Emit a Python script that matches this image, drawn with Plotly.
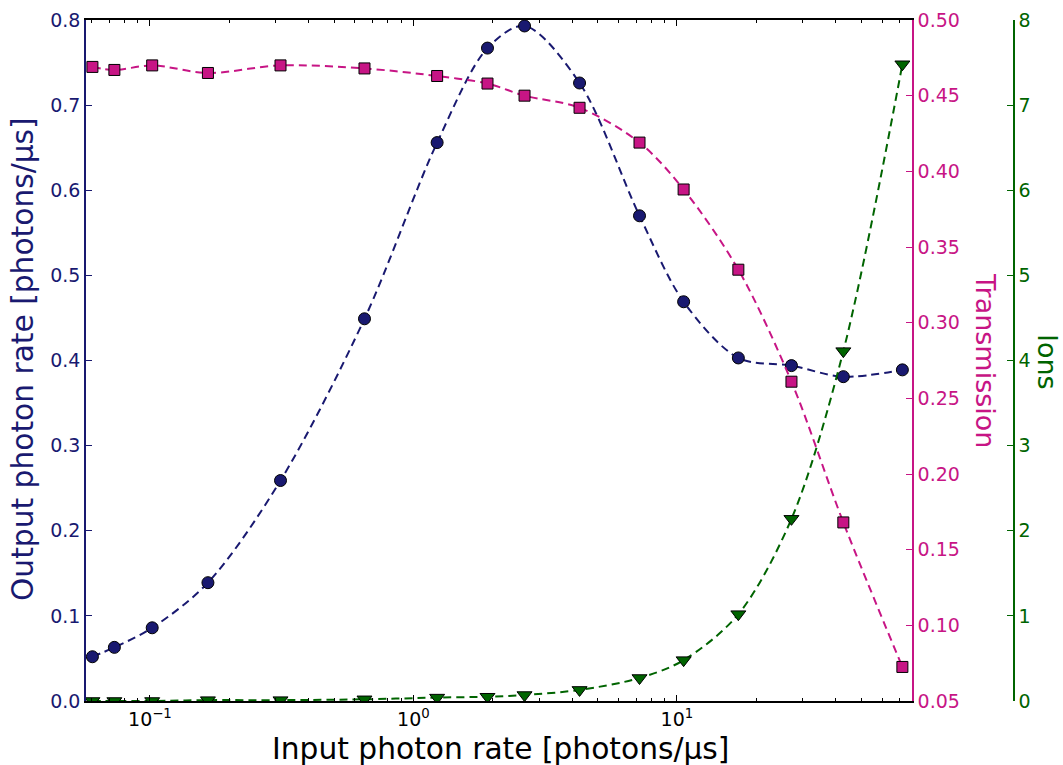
import plotly.graph_objects as go

# Input photon rate [photons/us]
input_rate = [0.0605, 0.0733, 0.102, 0.166, 0.313, 0.652, 1.23, 1.91, 2.64,
              4.27, 7.21, 10.6, 17.1, 27.2, 42.8, 71.7]
# Output photon rate [photons/us]
output_rate = [0.052, 0.063, 0.086, 0.139, 0.259, 0.449, 0.656, 0.767, 0.793,
               0.726, 0.570, 0.469, 0.403, 0.394, 0.381, 0.389]
# Transmission
transmission = [0.469, 0.467, 0.470, 0.465, 0.470, 0.468, 0.463, 0.458, 0.450,
                0.442, 0.419, 0.388, 0.335, 0.261, 0.168, 0.0725]
# Ions
ions = [0.0, 0.0, 0.0, 0.01, 0.01, 0.02, 0.04, 0.05, 0.07,
        0.13, 0.27, 0.48, 1.02, 2.14, 4.11, 7.48]

x_tick_vals = [0.1, 1, 10]
x_tick_text = ["10<sup>\u22121</sup>", "10<sup>0</sup>", "10<sup>1</sup>"]
x_minor_vals = [0.06, 0.07, 0.08, 0.09,
                0.2, 0.3, 0.4, 0.5, 0.6, 0.7, 0.8, 0.9,
                2, 3, 4, 5, 6, 7, 8, 9,
                20, 30, 40, 50, 60, 70]
y1_ticks = [0.0, 0.1, 0.2, 0.3, 0.4, 0.5, 0.6, 0.7, 0.8]
y2_ticks = [0.05, 0.10, 0.15, 0.20, 0.25, 0.30, 0.35, 0.40, 0.45, 0.50]
y3_ticks = [0, 1, 2, 3, 4, 5, 6, 7, 8]

BLUE = "#191970"
PINK = "#C71585"
GREEN = "#006400"
FONT = "DejaVu Sans"
TICK_SIZE = 19
TITLE_SIZE = 29.7
RIGHT_TITLE_SIZE = 27
DASH = "8px,5px"

fig = go.Figure()

fig.add_trace(go.Scatter(
    x=input_rate, y=output_rate, yaxis="y", mode="lines+markers",
    line=dict(color=BLUE, width=2, dash=DASH, shape="spline", smoothing=0.9),
    marker=dict(symbol="circle", size=12, color=BLUE,
                line=dict(color="black", width=1)),
))
fig.add_trace(go.Scatter(
    x=input_rate, y=transmission, yaxis="y2", mode="lines+markers",
    line=dict(color=PINK, width=2, dash=DASH, shape="spline", smoothing=0.9),
    marker=dict(symbol="square", size=11, color=PINK,
                line=dict(color="black", width=1)),
))
fig.add_trace(go.Scatter(
    x=input_rate, y=ions, yaxis="y3", mode="lines+markers",
    line=dict(color=GREEN, width=2, dash=DASH, shape="spline", smoothing=0.9),
    marker=dict(symbol="triangle-down", size=13, color=GREEN,
                line=dict(color="black", width=1)),
))

W, H = 1063, 765
L, R, T, B = 86, 49, 20, 64
plot_right = 912
paper_w = W - L - R
x_dom_end = (plot_right - L) / paper_w


def px_to_paper_x(px):
    return (px - L) / paper_w


def px_to_paper_y(py):
    return (H - B - py) / (H - T - B)


fig.update_layout(
    width=W, height=H,
    margin=dict(l=L, r=R, t=T, b=B, autoexpand=False),
    plot_bgcolor="white", paper_bgcolor="white",
    showlegend=False,
    font=dict(family=FONT, size=TICK_SIZE, color="black"),
    xaxis=dict(
        type="log", domain=[0, x_dom_end],
        range=[-1.2426, 1.892],
        tickmode="array", tickvals=x_tick_vals, ticktext=x_tick_text,
        ticks="inside", ticklen=6, tickwidth=1, tickcolor="black",
        minor=dict(tickmode="array", tickvals=x_minor_vals, ticks="inside",
                   ticklen=3, tickwidth=1, tickcolor="black", showgrid=False),
        showline=True, linecolor="black", linewidth=1.5, mirror="ticks",
        showgrid=False, zeroline=False,
        tickfont=dict(size=TICK_SIZE, color="black"),
    ),
    yaxis=dict(
        range=[0, 0.8], tickmode="array", tickvals=y1_ticks,
        tickformat=".1f",
        ticks="inside", ticklen=6, tickcolor=BLUE,
        showline=True, linecolor=BLUE, linewidth=1.5,
        showgrid=False, zeroline=False,
        tickfont=dict(size=TICK_SIZE, color=BLUE),
    ),
    yaxis2=dict(
        range=[0.05, 0.50], tickmode="array", tickvals=y2_ticks,
        tickformat=".2f", overlaying="y", side="right", anchor="x",
        ticks="inside", ticklen=6, tickcolor=PINK,
        showline=True, linecolor=PINK, linewidth=1.5,
        showgrid=False, zeroline=False,
        tickfont=dict(size=TICK_SIZE, color=PINK),
    ),
    yaxis3=dict(
        range=[0, 8], tickmode="array", tickvals=y3_ticks,
        overlaying="y", side="right", anchor="free", position=1.0,
        ticks="inside", ticklen=6, tickcolor=GREEN,
        showline=True, linecolor=GREEN, linewidth=1.5,
        showgrid=False, zeroline=False,
        tickfont=dict(size=TICK_SIZE, color=GREEN),
    ),
    annotations=[
        dict(text="Input photon rate [photons/\u03bcs]", xref="paper", yref="paper",
             x=px_to_paper_x(500), y=px_to_paper_y(748),
             xanchor="center", yanchor="middle", showarrow=False,
             font=dict(family=FONT, size=TITLE_SIZE, color="black")),
        dict(text="Output photon rate [photons/\u03bcs]", xref="paper", yref="paper",
             x=px_to_paper_x(22), y=px_to_paper_y(359),
             xanchor="center", yanchor="middle", showarrow=False, textangle=-90,
             font=dict(family=FONT, size=TITLE_SIZE, color=BLUE)),
        dict(text="Transmission", xref="paper", yref="paper",
             x=px_to_paper_x(986), y=px_to_paper_y(360),
             xanchor="center", yanchor="middle", showarrow=False, textangle=90,
             font=dict(family=FONT, size=RIGHT_TITLE_SIZE, color=PINK)),
        dict(text="Ions", xref="paper", yref="paper",
             x=px_to_paper_x(1048), y=px_to_paper_y(362),
             xanchor="center", yanchor="middle", showarrow=False, textangle=90,
             font=dict(family=FONT, size=RIGHT_TITLE_SIZE, color=GREEN)),
    ],
)

fig.write_html("out.html")
